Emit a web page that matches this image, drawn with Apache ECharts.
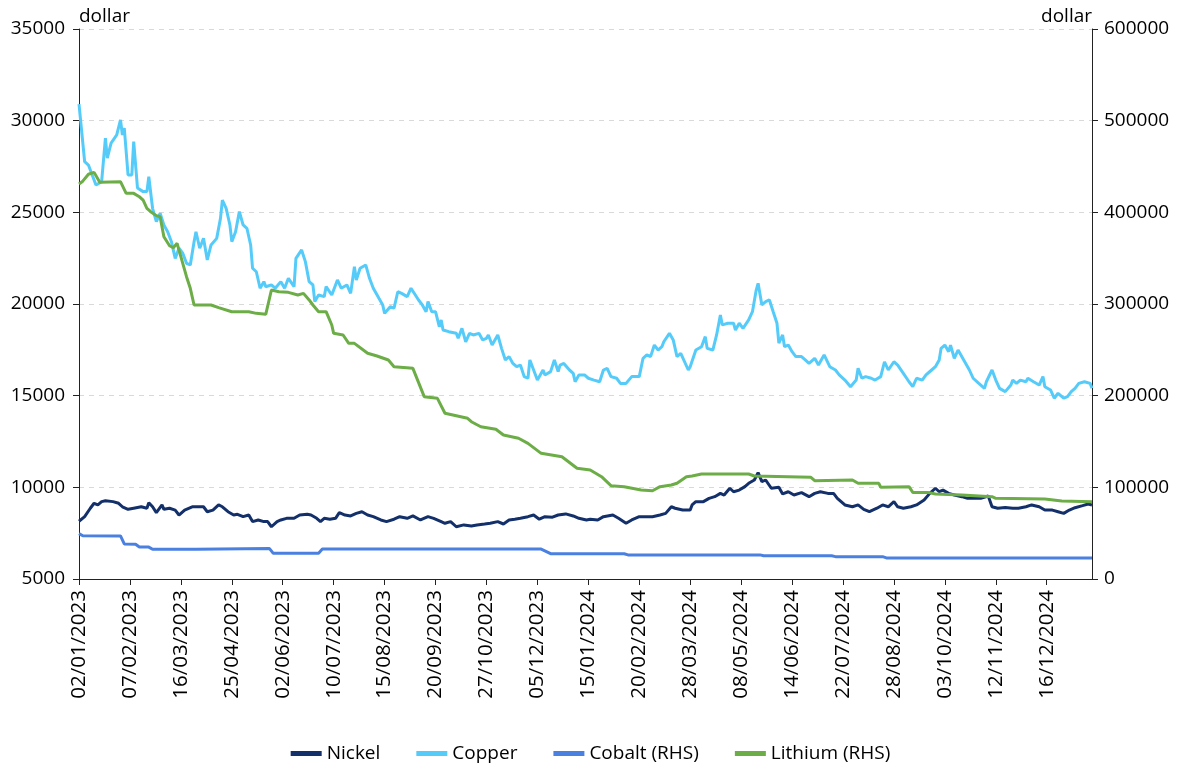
<!DOCTYPE html>
<html>
<head>
<meta charset="utf-8">
<script src="https://cdn.jsdelivr.net/npm/echarts@6/dist/echarts.min.js"></script>
<style>
html,body{margin:0;padding:0;background:#fff;}
#chart{width:1181px;height:771px;}
</style>
</head>
<body>
<div id="chart"></div>
<script>
// x positions are trading-day indices (0 = 02/01/2023); a labelled tick every 27 trading days
const tickLabels = ['02/01/2023','07/02/2023','16/03/2023','25/04/2023','02/06/2023','10/07/2023','15/08/2023','20/09/2023','27/10/2023','05/12/2023','15/01/2024','20/02/2024','28/03/2024','08/05/2024','14/06/2024','22/07/2024','28/08/2024','03/10/2024','12/11/2024','16/12/2024'];
const lastDay = 537;
const seriesNames = ['Nickel','Copper','Cobalt (RHS)','Lithium (RHS)'];

const nickel = [[0,8150],[3,8400],[6,8860],[8,9130],[10,9040],[12,9220],[14,9270],[18,9220],[21,9130],[23,8940],[26,8800],[29,8860],[30,8760],[33,8940],[36,8860],[37,9160],[39,8940],[41,8620],[44,9040],[45,8800],[48,8860],[51,8760],[53,8490],[56,8760],[60,8940],[62,8940],[66,8940],[68,8670],[71,8760],[74,9040],[76,8940],[79,8670],[82,8490],[84,8530],[87,8400],[90,8490],[92,8130],[95,8220],[98,8130],[100,8130],[102,7850],[105,8130],[107,8220],[110,8310],[114,8310],[117,8490],[121,8530],[123,8490],[126,8310],[128,8130],[130,8310],[133,8260],[136,8310],[138,8620],[141,8490],[144,8440],[147,8580],[150,8670],[153,8490],[156,8400],[160,8220],[163,8130],[167,8260],[170,8400],[174,8310],[177,8440],[181,8220],[185,8400],[188,8310],[192,8130],[194,8040],[197,8130],[200,7850],[204,7950],[208,7890],[211,7950],[215,8000],[218,8040],[222,8130],[225,8000],[228,8220],[231,8260],[234,8310],[238,8400],[241,8490],[244,8260],[247,8400],[251,8370],[254,8490],[258,8550],[262,8440],[265,8310],[269,8220],[271,8260],[275,8220],[278,8400],[283,8490],[286,8310],[290,8040],[293,8220],[297,8400],[301,8400],[304,8400],[308,8490],[311,8580],[314,8940],[316,8860],[320,8760],[324,8760],[325,9040],[327,9220],[331,9220],[334,9400],[337,9490],[340,9670],[342,9580],[345,9950],[347,9760],[350,9850],[353,10040],[355,10220],[358,10400],[360,10800],[362,10310],[364,10400],[367,9950],[371,10000],[373,9640],[376,9760],[379,9580],[383,9710],[387,9490],[390,9670],[393,9760],[397,9670],[400,9670],[402,9400],[406,9040],[410,8940],[413,9040],[416,8800],[419,8670],[423,8860],[426,9040],[429,8940],[432,9220],[434,8940],[437,8860],[441,8940],[444,9040],[448,9310],[451,9670],[454,9950],[456,9760],[458,9850],[461,9670],[464,9580],[468,9490],[471,9400],[475,9400],[478,9400],[482,9530],[484,8940],[487,8860],[491,8900],[495,8860],[498,8860],[502,8940],[505,9040],[509,8940],[512,8760],[516,8760],[519,8670],[522,8580],[525,8760],[528,8890],[532,9000],[535,9090],[537,9040]];

const copper = [[0,30900],[3,27760],[5,27580],[7,27040],[9,26490],[12,26670],[14,29050],[15,27960],[17,28780],[20,29220],[22,30040],[23,29220],[24,29600],[26,27040],[28,27040],[29,28860],[31,26330],[34,26130],[36,26130],[37,26940],[39,25220],[41,24490],[43,24950],[45,24310],[47,23940],[49,23400],[51,22490],[53,23040],[55,22770],[57,22220],[59,22130],[61,23400],[62,23940],[64,23040],[66,23580],[68,22400],[70,23220],[73,23580],[75,24670],[76,25670],[78,25220],[80,24310],[81,23400],[83,23940],[85,25040],[87,24310],[89,24130],[91,23220],[92,21950],[94,21760],[96,20860],[98,21220],[99,20940],[102,21040],[104,20860],[107,21220],[109,20860],[111,21400],[114,20950],[115,22490],[118,22950],[120,22310],[122,21220],[124,21040],[125,20130],[127,20490],[130,20400],[131,20950],[134,20490],[137,21310],[139,20860],[142,21040],[144,20580],[146,22040],[147,21310],[149,21950],[152,22130],[154,21400],[156,20860],[159,20310],[161,19950],[162,19490],[165,19850],[167,19770],[169,20670],[171,20580],[174,20400],[176,20860],[177,20860],[180,20220],[182,19950],[184,19580],[185,20130],[187,19580],[189,19580],[191,18760],[192,19130],[193,18580],[196,18490],[200,18400],[201,18130],[203,18670],[205,17940],[207,18400],[209,18310],[212,18400],[214,18040],[216,18130],[217,18310],[219,17760],[222,18310],[224,17580],[226,16950],[228,17130],[230,16760],[232,16580],[234,16670],[236,16040],[238,15950],[239,16950],[241,16400],[243,15850],[246,16400],[247,16130],[250,16310],[252,16950],[254,16310],[255,16670],[257,16760],[260,16400],[262,16220],[263,15760],[265,16130],[268,16130],[270,15950],[273,15850],[276,15760],[278,16400],[280,16490],[282,16040],[285,15950],[287,15670],[290,15670],[293,16040],[295,16040],[297,16040],[299,17040],[301,17220],[303,17130],[305,17760],[307,17490],[309,17670],[310,17940],[313,18400],[315,18040],[317,17130],[319,17310],[323,16400],[324,16580],[327,17490],[330,17670],[332,18220],[333,17580],[336,17490],[338,18310],[340,19400],[341,18860],[344,18950],[347,18950],[348,18580],[350,18950],[352,18670],[355,19130],[356,19040],[357,19580],[359,20760],[360,21130],[362,19950],[364,20130],[366,20220],[368,19580],[370,18950],[371,17860],[373,18310],[374,17670],[376,17760],[378,17400],[380,17130],[383,17130],[385,16950],[387,16760],[390,17040],[392,16670],[394,17040],[395,17220],[398,16580],[401,16400],[403,16130],[406,15850],[409,15490],[410,15490],[412,15850],[413,16490],[415,15950],[417,16040],[420,15950],[422,15850],[425,16040],[427,16850],[429,16400],[432,16850],[434,16670],[437,16220],[440,15760],[442,15490],[444,15950],[447,15850],[449,16130],[452,16400],[454,16580],[456,16950],[457,17580],[459,17760],[461,17400],[462,17760],[464,17040],[466,17490],[469,16950],[472,16400],[474,15950],[477,15670],[480,15400],[481,15760],[484,16400],[486,15850],[488,15400],[491,15220],[494,15580],[495,15850],[497,15670],[499,15850],[502,15760],[503,15950],[506,15760],[509,15580],[511,16040],[512,15490],[515,15310],[517,14860],[519,15130],[520,15130],[522,14860],[524,14950],[526,15220],[528,15400],[530,15670],[533,15760],[534,15850],[536,15670],[537,15400]];

const cobalt = [[0,49500],[2,47200],[22,47000],[24,38300],[30,38000],[32,35000],[37,34800],[39,32400],[62,32400],[63,33200],[101,33200],[103,28000],[127,28000],[129,32600],[245,32600],[250,27600],[289,27600],[291,26300],[361,26300],[363,25300],[399,25300],[401,24400],[426,24400],[428,23000],[537,23000]];

const lithium = [[0,431000],[2,434000],[5,441500],[8,443600],[11,432700],[22,433400],[25,420700],[29,420700],[32,417000],[34,413400],[36,404400],[38,400700],[41,396400],[43,395200],[45,373400],[48,363600],[50,361400],[52,366200],[53,364400],[57,329800],[59,317100],[61,298900],[70,298900],[74,296000],[81,291600],[90,291600],[94,289800],[99,288700],[102,315300],[106,313400],[111,312700],[116,309800],[119,311600],[122,304400],[124,298900],[127,291600],[131,291600],[134,277100],[135,268000],[140,266200],[143,257100],[146,257100],[153,246200],[158,243300],[164,238900],[167,231600],[177,229800],[183,198900],[190,197100],[194,180800],[206,175300],[208,171600],[213,166100],[221,163300],[225,157100],[233,153500],[238,148000],[245,137100],[256,133400],[264,120800],[271,118900],[277,111600],[282,101800],[289,100700],[298,97100],[304,96300],[308,100700],[314,102500],[317,104400],[322,111600],[325,112400],[330,114500],[355,114500],[358,112400],[388,110900],[390,107300],[410,108000],[413,104400],[424,104400],[425,100000],[440,100700],[442,94500],[450,94500],[454,92700],[468,91600],[484,89800],[486,88000],[512,87300],[521,85100],[537,84300]];

const colors = ['#13306A','#55CBFA','#4A80E0','#6CAD47'];
const FONT = 'Open Sans';
const chart = echarts.init(document.getElementById('chart'), null, {renderer:'canvas'});
function mk(name, data, idx, yIdx, w){
  return {name:name, type:'line', data:data, yAxisIndex:yIdx, showSymbol:false, symbol:'none',
    lineStyle:{color:colors[idx], width:w}, itemStyle:{color:colors[idx]}, animation:false, z:2+idx};
}
const plain = function(v){ return String(v); };
chart.setOption({
  animation:false,
  textStyle:{fontFamily:FONT, color:'#000'},
  grid:{left:79, right:89, top:29, bottom:192, containLabel:false},
  legend:{bottom:3, left:'center', icon:'rect', itemWidth:31, itemHeight:5, itemGap:36,
    textStyle:{fontFamily:FONT, fontSize:19, color:'#000'}, data:seriesNames},
  xAxis:{type:'value', min:0, max:lastDay, interval:27,
    axisLine:{lineStyle:{color:'#222', width:1}},
    axisTick:{show:true, length:6, lineStyle:{color:'#222'}},
    splitLine:{show:false},
    axisLabel:{rotate:90, margin:11, fontSize:20.5, color:'#000', fontFamily:FONT,
      showMaxLabel:false,
      formatter:function(v){ if(v % 27 !== 0) return ''; const l = tickLabels[v/27]; return l || ''; }}
  },
  yAxis:[
    {type:'value', min:5000, max:35000, interval:5000, position:'left',
     name:'dollar', nameLocation:'end', nameGap:3,
     nameTextStyle:{align:'left', fontSize:19, color:'#000', fontFamily:FONT},
     axisLine:{show:true, lineStyle:{color:'#222'}},
     axisTick:{show:true, length:6, lineStyle:{color:'#222'}},
     axisLabel:{fontSize:19, color:'#000', margin:14, fontFamily:FONT, formatter:plain},
     splitLine:{show:true, lineStyle:{color:'#d9d9d9', type:[5,5], width:1}}},
    {type:'value', min:0, max:600000, interval:100000, position:'right',
     name:'dollar', nameLocation:'end', nameGap:3,
     nameTextStyle:{align:'right', fontSize:19, color:'#000', fontFamily:FONT},
     axisLine:{show:true, lineStyle:{color:'#222'}},
     axisTick:{show:true, length:6, lineStyle:{color:'#222'}},
     axisLabel:{fontSize:19, color:'#000', margin:12, fontFamily:FONT, formatter:plain},
     splitLine:{show:false}}
  ],
  series:[
    mk(seriesNames[0], nickel, 0, 0, 3),
    mk(seriesNames[1], copper, 1, 0, 3),
    mk(seriesNames[2], cobalt, 2, 1, 3),
    mk(seriesNames[3], lithium, 3, 1, 3)
  ]
});
</script>
</body>
</html>
